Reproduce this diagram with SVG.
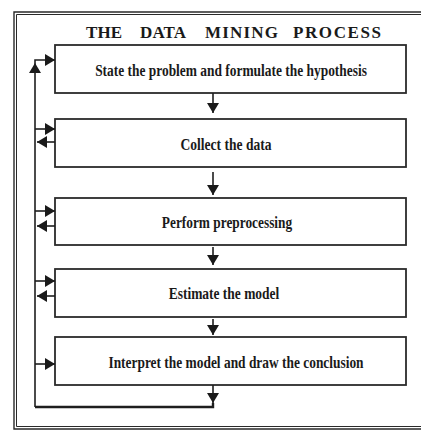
<svg xmlns="http://www.w3.org/2000/svg" width="421" height="430" viewBox="0 0 421 430">
  <style>
    .frame { fill: none; stroke: #2a2a2a; }
    .box rect { fill: #ffffff; stroke: #2b2b2b; stroke-width: 1.8; }
    .box text { font-family: "Liberation Serif", "Times New Roman", serif; font-weight: bold; font-size: 17px; fill: #1a1a1a; text-anchor: middle; }
    .title text { font-family: "Liberation Serif", "Times New Roman", serif; font-weight: bold; font-size: 17px; fill: #1a1a1a; }
    .wire { fill: none; stroke: #1e1e1e; stroke-width: 1.6; }
    .thick { stroke-width: 2.4; }
  </style>
  <defs>
    <marker id="head" viewBox="0 0 10 12" refX="10" refY="6" markerWidth="10" markerHeight="12" markerUnits="userSpaceOnUse" orient="auto">
      <path d="M0,0 L10,6 L0,12 Z" fill="#1a1a1a"/>
    </marker>
  </defs>

  <rect width="421" height="430" fill="#ffffff"/>

  <!-- double rule frame -->
  <g id="frame">
    <path class="frame" stroke-width="1.4" d="M421,12 H14 V429 H421"/>
    <path class="frame" stroke-width="1" d="M421,14.5 H16.5 V426.5 H421"/>
  </g>

  <!-- spaced-out heading, one word at a time -->
  <g id="title" class="title">
    <text x="86" y="38" textLength="36" lengthAdjust="spacing">THE</text>
    <text x="140" y="38" textLength="46" lengthAdjust="spacing">DATA</text>
    <text x="205" y="38" textLength="73" lengthAdjust="spacing">MINING</text>
    <text x="293" y="38" textLength="88" lengthAdjust="spacing">PROCESS</text>
  </g>

  <!-- step labels are set in a horizontally condensed bold serif -->
  <g id="step1" class="box">
    <rect x="55" y="45" width="351" height="48"/>
    <text transform="translate(231,75.5) scale(0.79,1)" textLength="344" lengthAdjust="spacingAndGlyphs">State the problem and formulate the hypothesis</text>
  </g>
  <g id="step2" class="box">
    <rect x="55" y="119" width="351" height="48"/>
    <text transform="translate(226,149.5) scale(0.79,1)" textLength="115" lengthAdjust="spacingAndGlyphs">Collect the data</text>
  </g>
  <g id="step3" class="box">
    <rect x="55" y="198" width="351" height="47"/>
    <text transform="translate(227,227.5) scale(0.79,1)" textLength="165" lengthAdjust="spacingAndGlyphs">Perform preprocessing</text>
  </g>
  <g id="step4" class="box">
    <rect x="55" y="269" width="351" height="48"/>
    <text transform="translate(224,298.5) scale(0.79,1)" textLength="140" lengthAdjust="spacingAndGlyphs">Estimate the model</text>
  </g>
  <g id="step5" class="box">
    <rect x="55" y="337" width="351" height="48"/>
    <text transform="translate(236,367.5) scale(0.79,1)" textLength="323" lengthAdjust="spacingAndGlyphs">Interpret the model and draw the conclusion</text>
  </g>

  <g id="connectors">
    <!-- main flow downward -->
    <path class="wire" d="M213,93 V113" marker-end="url(#head)"/>
    <path class="wire" d="M213,172 V195" marker-end="url(#head)"/>
    <path class="wire" d="M213,247 V265" marker-end="url(#head)"/>
    <path class="wire" d="M213,319 V335" marker-end="url(#head)"/>
    <path class="wire" d="M213,385 V403" marker-end="url(#head)"/>
    <!-- return loop -->
    <path class="wire thick" d="M213,403 V407 H35"/>
    <path class="wire" d="M35,407 V63" marker-end="url(#head)"/>
    <path class="wire" d="M35,63 V60 H55" marker-end="url(#head)"/>
    <!-- loop entries and exits -->
    <path class="wire" d="M35,129 H55" marker-end="url(#head)"/>
    <path class="wire" d="M55,142 H37" marker-end="url(#head)"/>
    <path class="wire" d="M35,211 H55" marker-end="url(#head)"/>
    <path class="wire" d="M55,226 H37" marker-end="url(#head)"/>
    <path class="wire" d="M35,281 H55" marker-end="url(#head)"/>
    <path class="wire" d="M55,296 H37" marker-end="url(#head)"/>
    <path class="wire" d="M35,364 H55" marker-end="url(#head)"/>
  </g>
</svg>
